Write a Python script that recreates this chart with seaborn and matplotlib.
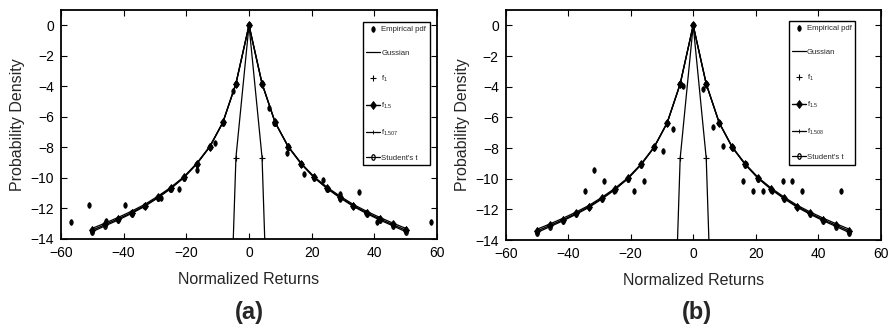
import numpy as np
import pandas as pd
import matplotlib
matplotlib.use("Agg")
import matplotlib.pyplot as plt
from matplotlib.markers import MarkerStyle
from matplotlib.transforms import Affine2D
import seaborn as sns

# ---------------- data ----------------
x_grid = [-50, -45.83, -41.67, -37.5, -33.33, -29.17, -25, -20.83, -16.67,
          -12.5, -8.33, -4.17, 0, 4.17, 8.33, 12.5, 16.67, 20.83, 25, 29.17,
          33.33, 37.5, 41.67, 45.83, 50]
f15 = [-13.42, -13.05, -12.68, -12.27, -11.82, -11.28, -10.68, -9.97, -9.07,
       -7.95, -6.36, -3.82, 0, -3.82, -6.36, -7.95, -9.07, -9.97, -10.68,
       -11.28, -11.82, -12.27, -12.68, -13.05, -13.42]
f_mid = [-13.30, -12.95, -12.58, -12.18, -11.74, -11.21, -10.62, -9.93, -9.04,
         -7.93, -6.35, -3.82, 0, -3.82, -6.35, -7.93, -9.04, -9.93, -10.62,
         -11.21, -11.74, -12.18, -12.58, -12.95, -13.30]
student = [-13.52, -13.13, -12.75, -12.33, -11.87, -11.32, -10.71, -9.99, -9.09,
           -7.96, -6.37, -3.83, 0, -3.83, -6.37, -7.96, -9.09, -9.99, -10.71,
           -11.32, -11.87, -12.33, -12.75, -13.13, -13.52]
gauss_x = [-8.33, -4.17, 0, 4.17, 8.33]
gauss_y = [-34.7, -8.67, 0, -8.67, -34.7]
f1_x = [-4.17, 4.17]
f1_y = [-8.67, -8.67]

emp_a_x = [-56.8, -51.2, -50.0, -45.6, -41.7, -39.7, -37.6, -33.5, -29.0, -28.2,
           -25.1, -22.3, -20.8, -16.7, -16.7, -12.6, -10.9, -8.4, -5.05, -4.3,
           0, 4.1, 6.4, 8.1, 12.1, 12.3, 16.6, 17.7, 20.7, 23.5, 25.1, 29.1,
           29.1, 33.1, 35.0, 37.4, 41.4, 41.0, 45.8, 49.9, 58.2]
emp_a_y = [-12.86, -11.77, -13.5, -12.84, -12.7, -11.77, -12.27, -11.84, -11.29,
           -11.3, -10.7, -10.7, -9.98, -9.46, -9.06, -7.9, -7.7, -6.35, -4.3,
           -3.82, 0, -3.8, -5.4, -6.38, -8.35, -7.93, -9.06, -9.72, -9.94,
           -10.15, -10.7, -11.07, -11.36, -11.84, -10.94, -12.27, -12.67,
           -12.88, -13.1, -13.43, -12.86]

emp_b_x = [-50.1, -34.75, -31.6, -28.5, -25.4, -20.9, -19.1, -16.8, -15.9, -12.6,
           -9.6, -8.5, -6.4, -4.2, -3.2, 0, 3.2, 4.2, 6.4, 8.3, 9.5, 12.6,
           15.9, 16.8, 19.0, 20.8, 22.3, 25.3, 28.6, 29.2, 31.7, 34.9, 47.4, 50.0]
emp_b_y = [-13.5, -10.81, -9.44, -10.14, -10.8, -10.03, -10.81, -9.07, -10.14,
           -7.99, -8.18, -6.36, -6.73, -3.8, -3.97, 0, -4.12, -3.8, -6.62,
           -6.36, -7.88, -7.99, -10.14, -9.07, -10.81, -10.03, -10.81, -10.81,
           -10.14, -11.29, -10.14, -10.81, -10.81, -13.5]

labels_a = ["Empirical pdf", "Gussian", r"f$_{\mathregular{1}}$",
            r"f$_{\mathregular{1.5}}$", r"f$_{\mathregular{1.507}}$", "Student's t"]
labels_b = ["Empirical pdf", "Gussian", r"f$_{\mathregular{1}}$",
            r"f$_{\mathregular{1.5}}$", r"f$_{\mathregular{1.508}}$", "Student's t"]
x_ticks = [-60, -40, -20, 0, 20, 40, 60]
y_ticks = [0, -2, -4, -6, -8, -10, -12, -14]

# ---------------- style ----------------
sns.set_style("ticks")
plt.rcParams["font.family"] = ["Liberation Sans", "DejaVu Sans"]
plt.rcParams["mathtext.fontset"] = "custom"
plt.rcParams["mathtext.rm"] = "Liberation Sans"
plt.rcParams["mathtext.it"] = "Liberation Sans"

ell = MarkerStyle("o", transform=Affine2D().scale(0.6, 1.0))
ell_open = MarkerStyle("o", fillstyle="none", transform=Affine2D().scale(0.6, 1.0))

fig = plt.figure(figsize=(8.94, 3.34), dpi=100)
ax_a = fig.add_axes([61 / 894, 1 - 239 / 334, 376 / 894, 229 / 334])
ax_b = fig.add_axes([505.7 / 894, 1 - 240 / 334, 375 / 894, 230 / 334])


def draw(ax, ex, ey, labels, leg_anchor):
    sns.scatterplot(x=ex, y=ey, ax=ax, marker=ell, s=16, color="k",
                    edgecolor="k", linewidth=0.6, label=labels[0], zorder=5)
    sns.lineplot(x=gauss_x, y=gauss_y, ax=ax, color="k", lw=0.9,
                 label=labels[1], sort=False)
    sns.lineplot(x=f1_x, y=f1_y, ax=ax, color="k", lw=0, marker="+",
                 markersize=4.5, markeredgewidth=0.8, markeredgecolor="k",
                 label=labels[2])
    sns.lineplot(x=x_grid, y=f15, ax=ax, color="k", lw=1.0, marker="d",
                 markersize=4.5, markeredgewidth=0.6, markeredgecolor="k",
                 markerfacecolor="k", label=labels[3], sort=False)
    sns.lineplot(x=x_grid, y=f_mid, ax=ax, color="k", lw=0.9, marker="|",
                 markersize=2.5, markeredgewidth=0.6, markeredgecolor="k",
                 label=labels[4], sort=False)
    sns.lineplot(x=x_grid, y=student, ax=ax, color="k", lw=0.9, marker=ell_open,
                 markersize=4, markeredgewidth=0.9, markeredgecolor="k",
                 label=labels[5], sort=False)

    ax.set_xlim(-60, 60)
    ax.set_ylim(-14, 1)
    ax.set_xticks(x_ticks)
    ax.set_yticks(y_ticks)
    ax.tick_params(direction="in", top=True, right=True, length=4, width=0.8,
                   labelsize=10, pad=5, colors="k")
    for s in ax.spines.values():
        s.set_linewidth(1.3)
        s.set_color("k")
    ax.set_xlabel("Normalized Returns", fontsize=11.5, labelpad=9)
    ax.set_ylabel("Probability Density", fontsize=11.5, labelpad=4)

    leg = ax.legend(loc="upper left", bbox_to_anchor=leg_anchor, borderaxespad=0,
                    fontsize=5.6, frameon=True, fancybox=False, framealpha=1,
                    edgecolor="k", handlelength=1.8, handletextpad=0.1,
                    labelspacing=2.15, borderpad=0.45, markerscale=1.0)
    leg.get_frame().set_linewidth(1.0)


draw(ax_a, emp_a_x, emp_a_y, labels_a, (0.803, 0.948))
draw(ax_b, emp_b_x, emp_b_y, labels_b, (0.755, 0.952))

fig.text(249 / 894, 1 - 313 / 334, "(a)", ha="center", va="center",
         fontsize=17, fontweight="bold")
fig.text(697 / 894, 1 - 313 / 334, "(b)", ha="center", va="center",
         fontsize=17, fontweight="bold")

fig.savefig("out.png", dpi=100)
